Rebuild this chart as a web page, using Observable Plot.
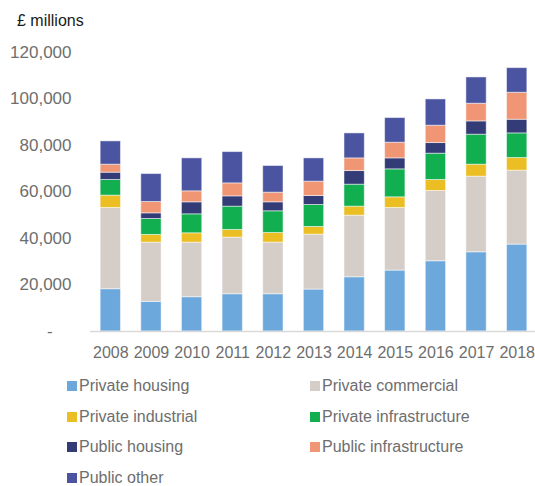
<!DOCTYPE html>
<html>
<head>
<meta charset="utf-8">
<script src="https://cdn.jsdelivr.net/npm/d3@7"></script>
<script src="https://cdn.jsdelivr.net/npm/@observablehq/plot@0.6"></script>
<style>
  body { margin: 0; background: #fff; font-family: "Liberation Sans", Arial, sans-serif; }
  #wrap { width: 535px; position: relative; }
  #title { font-size: 16px; line-height: 20px; height: 36px; box-sizing: border-box; padding-top: 11px; padding-left: 17px; color: #1a1a1a; }
  #legend { display: grid; grid-template-columns: 243px 225px; margin-top: 5px; padding-left: 67px; font-size: 16px; color: #6e6e6e; }
  .item { height: 30.5px; display: flex; align-items: center; }
  .sw { width: 10px; height: 10px; margin-right: 2px; flex: none; }
</style>
</head>
<body>
<div id="wrap">
  <div id="title">£ millions</div>
  <div id="chart"></div>
  <div id="legend"></div>
</div>
<script>
const years = ["2008","2009","2010","2011","2012","2013","2014","2015","2016","2017","2018"];
const seriesNames = ["Private housing","Private commercial","Private industrial","Private infrastructure","Public housing","Public infrastructure","Public other"];
const seriesColors = ["#6CA8DC","#D5CDC8","#EBBE23","#11AF4F","#333C77","#F09674","#4A54A0"];
const privateHousing        = [18190,12740,14750,16040,16040,18040,23340,26210,30220,34080,37380];
const privateCommercial     = [34940,25490,23480,24340,22200,23630,26490,26920,30220,32510,31790];
const privateIndustrial     = [5300,3290,4010,3290,4150,3290,3870,4580,4730,5160,5440];
const privateInfrastructure = [6730,6870,8160,10020,9310,9450,9450,12030,11310,12890,10600];
const publicHousing         = [3150,2430,5160,4440,3870,3870,5870,4730,4580,5730,5870];
const publicInfrastructure  = [3440,4870,4730,5580,4150,6160,5440,6730,7450,7590,11600];
const publicOther           = [10020,12030,14180,13460,11460,10020,10740,10600,11310,11310,10600];
const yTicks = [0,20000,40000,60000,80000,100000,120000];

const seriesValues = [privateHousing, privateCommercial, privateIndustrial, privateInfrastructure, publicHousing, publicInfrastructure, publicOther];
const data = [];
seriesNames.forEach((s, i) => years.forEach((y, j) => data.push({year: y, series: s, value: seriesValues[i][j]})));

const fmt = d3.format(",");
const chart = Plot.plot({
  width: 535,
  height: 330,
  marginLeft: 90,
  marginRight: -2,
  marginTop: 16,
  marginBottom: 35,
  style: {fontFamily: "'Liberation Sans', Arial, sans-serif", background: "#fff", overflow: "visible"},
  x: {domain: years, padding: 0.5, paddingOuter: 0.25, round: false, label: null},
  y: {domain: [0, 120000], label: null},
  color: {domain: seriesNames, range: seriesColors},
  marks: [
    Plot.barY(data, {x: "year", y: "value", fill: "series", order: seriesNames, stroke: "#fff", strokeOpacity: 0.5, strokeWidth: 1}),
    Plot.ruleY([0], {stroke: "#d9d9d9", strokeWidth: 1.5}),
    Plot.axisY({ticks: yTicks, tickSize: 0, tickPadding: 19, tickFormat: d => d === 0 ? "-\u2007\u2007" : fmt(d), fontSize: 17, fill: "#6e6e6e"}),
    Plot.axisX({tickSize: 0, tickPadding: 15, fontSize: 16, fill: "#6e6e6e"})
  ]
});
document.getElementById("chart").appendChild(chart);

const legend = document.getElementById("legend");
seriesNames.forEach((s, i) => {
  const it = document.createElement("div");
  it.className = "item";
  const sw = document.createElement("span");
  sw.className = "sw";
  sw.style.background = seriesColors[i];
  const tx = document.createElement("span");
  tx.textContent = s;
  it.appendChild(sw); it.appendChild(tx);
  legend.appendChild(it);
});
</script>
</body>
</html>
